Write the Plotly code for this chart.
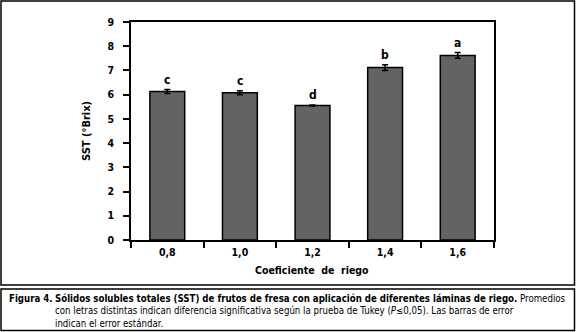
import plotly.graph_objects as go

# Data
categories = ["0,8", "1,0", "1,2", "1,4", "1,6"]
sst_values = [6.13, 6.08, 5.55, 7.12, 7.62]
sst_errors = [0.08, 0.08, 0.02, 0.12, 0.12]
letters = ["c", "c", "d", "b", "a"]
y_ticks = [0, 1, 2, 3, 4, 5, 6, 7, 8, 9]

W_PX, H_PX = 576, 332
L, R, T, B = 131, 494, 22, 240  # plot area in pixels

FONT = "Liberation Sans Narrow, DejaVu Sans Condensed, Arial Narrow, sans-serif"


def fx(px):
    return (px - L) / (R - L)


def fy(py):
    return 1 - (py - T) / (B - T)


fig = go.Figure()
fig.add_trace(go.Bar(
    x=categories,
    y=sst_values,
    width=0.48,
    marker=dict(color="#636363", line=dict(color="black", width=1.5)),
    error_y=dict(type="data", array=sst_errors, visible=True,
                 color="black", thickness=1.5, width=3),
    showlegend=False,
))

for c, v, e, t in zip(categories, sst_values, sst_errors, letters):
    fig.add_annotation(x=c, y=v + e, text=f"<b>{t}</b>", showarrow=False,
                       yanchor="bottom", yshift=1,
                       font=dict(family=FONT, size=12, color="black"))

# Outer boxes
fig.add_shape(type="rect", xref="paper", yref="paper",
              x0=fx(1), x1=fx(574.5), y0=fy(1), y1=fy(285),
              line=dict(color="black", width=1.5))
fig.add_shape(type="rect", xref="paper", yref="paper",
              x0=fx(1), x1=fx(574.5), y0=fy(289), y1=fy(330.5),
              line=dict(color="black", width=1.5))

# Axis titles
fig.add_annotation(xref="paper", yref="paper", x=fx(312), y=fy(270),
                   text="<b>Coeficiente  de  riego</b>", showarrow=False,
                   xanchor="center", yanchor="middle",
                   font=dict(family=FONT, size=10.5, color="black"))
fig.add_annotation(xref="paper", yref="paper", x=fx(86), y=fy(131),
                   text="<b>SST (°Brix)</b>", showarrow=False, textangle=-90,
                   xanchor="center", yanchor="middle",
                   font=dict(family=FONT, size=11, color="black"))

# Caption
CAP = 9.6
fig.add_annotation(xref="paper", yref="paper", x=fx(7), y=fy(298),
                   text="<b>Figura 4.</b>", showarrow=False,
                   xanchor="left", yanchor="middle",
                   font=dict(family=FONT, size=CAP, color="black"))
caption_lines = [
    "<b>Sólidos solubles totales (SST) de frutos de fresa con aplicación de diferentes láminas de riego.</b> Promedios",
    "con letras distintas indican diferencia significativa según la prueba de Tukey (<i>P</i>≤0,05). Las barras de error",
    "indican el error estándar.",
]
for i, line in enumerate(caption_lines):
    fig.add_annotation(xref="paper", yref="paper", x=fx(53), y=fy(298 + 12.5 * i),
                       text=line, showarrow=False, xanchor="left",
                       yanchor="middle", align="left",
                       font=dict(family=FONT, size=CAP, color="black"))

fig.update_layout(
    width=W_PX, height=H_PX,
    margin=dict(l=L, r=W_PX - R, t=T, b=H_PX - B),
    paper_bgcolor="white", plot_bgcolor="white",
    bargap=0.52,
    font=dict(family=FONT, color="black"),
)
fig.update_xaxes(
    type="category", showline=True, linecolor="black", linewidth=1.5,
    mirror=True, ticks="outside", ticklen=6, tickwidth=1.5, tickcolor="black",
    tickson="boundaries", showgrid=False, ticklabelstandoff=2,
    tickfont=dict(family=FONT, size=10.5, color="black", weight="bold"),
)
fig.update_yaxes(
    range=[0, 9], tickvals=y_ticks, showline=True, linecolor="black",
    linewidth=1.5, mirror=True, ticks="outside", ticklen=6, tickwidth=1.5,
    tickcolor="black", showgrid=False, zeroline=False,
    ticklabelstandoff=7,
    tickfont=dict(family=FONT, size=10.5, color="black", weight="bold"),
)

fig.write_html("out.html", config={"displayModeBar": False},
               post_script="document.body.style.margin='0';")
